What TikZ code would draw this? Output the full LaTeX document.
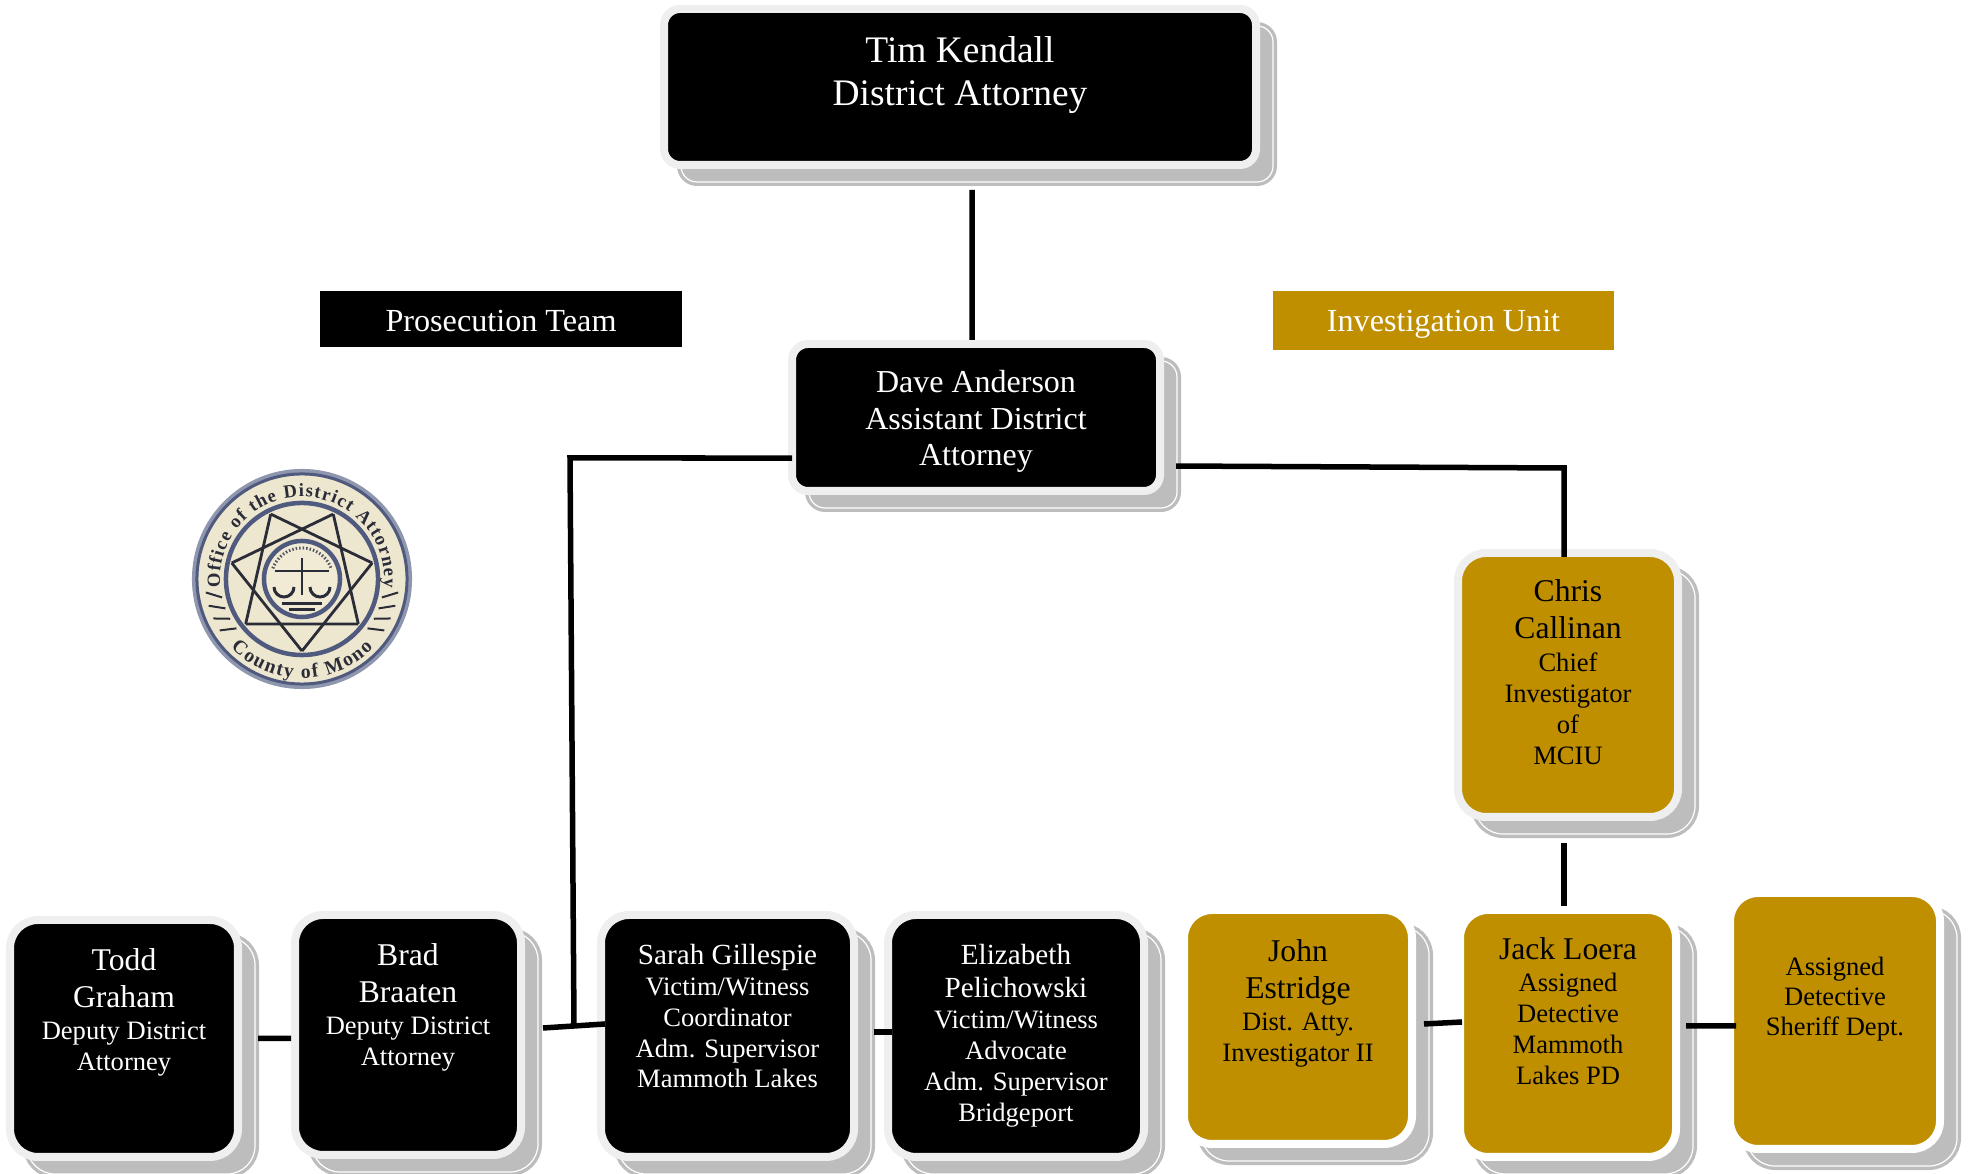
\documentclass[tikz,border=0pt]{standalone}
\usepackage{fontspec}
\usepackage{xcolor}
\setmainfont{Liberation Serif}
\usetikzlibrary{calc, positioning, decorations.text}
\definecolor{goldbox}{HTML}{BF8F00}
\definecolor{rimgray}{HTML}{EFEFEF}
\definecolor{shadowgray}{HTML}{BDBDBD}
\definecolor{sealblue}{HTML}{4F5A7E}
\definecolor{sealedge}{HTML}{8F97AE}
\definecolor{sealcream}{HTML}{EEE7CF}
\definecolor{sealink}{HTML}{2A2C38}
\newcommand{\namesize}{\fontsize{9}{10.5}\selectfont}
\newcommand{\titlesize}{\fontsize{7.55}{8.8}\selectfont}
\newcommand{\longname}{\fontsize{8.3}{9.4}\selectfont}

\begin{document}
\begin{tikzpicture}[x=0.01cm,y=-0.01cm,
    main node/.style={rectangle,line width=0.08cm,align=center,inner sep=0pt,font=\titlesize,
        preaction={draw=shadowgray,fill=shadowgray,line width=0.08cm,transform canvas={shift={(0.17cm,-0.17cm)}}},
        preaction={draw=white,line width=0.012cm,transform canvas={shift={(0.17cm,-0.17cm)}}}},
    black node/.style={main node,fill=black,draw=rimgray,text=white},
    gold lead node/.style={main node,fill=goldbox,draw=rimgray,text=black},
    gold node/.style={main node,fill=goldbox,draw=white,text=black},
    box size/.style 2 args={minimum width=#1*0.01cm,minimum height=#2*0.01cm},
    wide/.style={rounded corners=0.16cm},
    tall/.style={rounded corners=0.28cm},
    banner node/.style={rectangle,inner sep=0pt,font=\fontsize{9.15}{10.3}\selectfont,text=white},
    link/.style={line width=0.055cm}]
 \useasboundingbox (0,0) rectangle (1969,1174);

 \node[black node,wide,box size={592}{156},font=\fontsize{10.65}{12.2}\selectfont] (kendall) at (960,87) {Tim Kendall\\District Attorney\\[-3pt]\mbox{}};
 \node[black node,wide,box size={368}{147},font=\fontsize{9.1}{10.3}\selectfont] (anderson) at (976,417.5) {\mbox{}\\[-1.7pt]Dave Anderson\\Assistant District\\Attorney};

 \node[banner node,fill=black,box size={362}{56},text height=6.96pt,text depth=0pt] (prosecution) at (501,319) {Prosecution Team};
 \node[banner node,fill=goldbox,box size={341}{59},text height=6.1pt,text depth=0pt] (investigation) at (1443.5,320.5) {Investigation Unit};

 \node[gold lead node,tall,box size={220}{264}] (callinan) at (1568,685) {\namesize Chris\\[1.7pt]\namesize Callinan\\[0.4pt]Chief\\Investigator\\of\\MCIU\\[-1.4pt]\mbox{}};

 \node[black node,tall,box size={228}{237}] (graham) at (124,1038.5) {\namesize Todd\\[1.7pt]\namesize Graham\\[0.3pt]Deputy District\\Attorney\\[7.6pt]\mbox{}};
 \node[black node,tall,box size={226}{240}] (braaten) at (408,1035) {\namesize Brad\\[1.7pt]\namesize Braaten\\[0.3pt]Deputy District\\Attorney\\[8.4pt]\mbox{}};
 \node[black node,tall,box size={253}{242}] (gillespie) at (727.5,1036) {\longname Sarah Gillespie\\Victim/Witness\\Coordinator\\Adm. Supervisor\\Mammoth Lakes\\[2.6pt]\mbox{}};
 \node[black node,tall,box size={256}{242}] (pelichowski) at (1016,1036) {\longname Elizabeth\\[0.6pt]\longname Pelichowski\\Victim/Witness\\Advocate\\Adm. Supervisor\\Bridgeport};
 \node[gold node,tall,box size={228}{234}] (estridge) at (1298,1027) {\namesize John\\[1.7pt]\namesize Estridge\\[0.15pt]Dist. Atty.\\Investigator II\\[6.2pt]\mbox{}};
 \node[gold node,tall,box size={216}{247}] (loera) at (1568,1033.5) {\namesize Jack Loera\\[0.45pt]Assigned\\Detective\\Mammoth\\Lakes PD\\[3.9pt]\mbox{}};
 \node[gold node,tall,box size={210}{256}] (assigned) at (1835,1021) {Assigned\\[-0.3pt]Detective\\[-0.3pt]Sheriff Dept.\\[5.1pt]\mbox{}};

 \coordinate (prosecTurn) at (570,458);
 \coordinate (prosecJoin) at (574,1026);
 \coordinate (investTurn) at (1564,468);

 \draw[link] ([xshift=0.12cm,yshift=-0.21cm]kendall.south) -- ([xshift=-0.04cm]anderson.north);
 \draw[link] ([xshift=0.04cm,yshift=-0.405cm]anderson.west) -- (prosecTurn) -- (prosecJoin);
 \draw[link] ([xshift=0.12cm,yshift=-0.485cm]anderson.east) -- (investTurn) -- ([xshift=-0.04cm,yshift=-0.08cm]callinan.north);
 \draw[link] ([xshift=-0.04cm,yshift=-0.22cm]callinan.south) -- ([xshift=-0.04cm]loera.north);
 \draw[link] ([xshift=0.16cm]graham.east) -- ([yshift=-0.035cm]braaten.west);
 \draw[link] ([xshift=0.18cm,yshift=0.07cm]braaten.east) -- ([xshift=0.08cm,yshift=0.12cm]gillespie.west);
 \draw[link] ([xshift=0.16cm,yshift=0.04cm]gillespie.east) -- ([xshift=0.08cm,yshift=0.04cm]pelichowski.west);
 \draw[link] ([xshift=0.08cm,yshift=0.03cm]estridge.east) -- ([xshift=0.06cm,yshift=0.115cm]loera.west);
 \draw[link] ([xshift=0.06cm,yshift=0.075cm]loera.east) -- ([xshift=0.10cm,yshift=-0.05cm]assigned.west);

 % seal
 \begin{scope}[shift={(302,579)},x=1cm,y=1cm]
  \fill[sealedge] (0,0) circle (1.10);
  \draw[sealblue,line width=0.03cm,fill=sealcream] (0,0) circle (1.05);
  \draw[sealblue,line width=0.045cm,fill=sealcream] (0,0) circle (0.76);
  \foreach \a in {0,...,6}
     {\pgfmathsetmacro{\from}{-90+360/7*\a}
      \pgfmathsetmacro{\to}{-90+360/7*(\a+2)}
      \draw[sealink,line width=0.028cm] (\from:0.72) -- (\to:0.72);}
  \draw[sealblue,line width=0.045cm,fill=sealcream!85!white] (0,0) circle (0.38);
  \draw[sealink!80,line width=0.03cm,dash pattern=on 0.015cm off 0.02cm] (160:0.31) arc[start angle=160,end angle=20,radius=0.31];
  \draw[sealink,line width=0.025cm] (0,0.21) -- (0,-0.16);
  \draw[sealink,line width=0.018cm] (-0.27,0.08) -- (0.27,0.08);
  \draw[sealink,line width=0.03cm] (-0.28,-0.08) arc[start angle=180,end angle=360,radius=0.1];
  \draw[sealink,line width=0.03cm] (0.08,-0.08) arc[start angle=180,end angle=360,radius=0.1];
  \draw[sealink,line width=0.03cm] (-0.2,-0.24) -- (0.2,-0.24);
  \draw[sealink,line width=0.03cm] (-0.13,-0.3) -- (0.13,-0.3);
  \path[decorate,decoration={text along path,text align=fit to path,
     text={|\fontsize{5.3}{5.3}\selectfont\bfseries\color{sealink}|Office of the District Attorney}}]
     (186:0.82) arc[start angle=186,end angle=-6,radius=0.82];
  \path[decorate,decoration={text along path,text align=fit to path,
     text={|\fontsize{5.6}{5.6}\selectfont\bfseries\color{sealink}|County of Mono}}]
     (-136:0.99) arc[start angle=-136,end angle=-44,radius=0.99];
  \foreach \a in {-143,-151,...,-167}
     {\draw[sealink,line width=0.02cm] (\a:0.82) -- (\a-5:0.97);}
  \foreach \a in {-37,-29,...,-13}
     {\draw[sealink,line width=0.02cm] (\a:0.82) -- (\a+5:0.97);}
 \end{scope}
\end{tikzpicture}
\end{document}
